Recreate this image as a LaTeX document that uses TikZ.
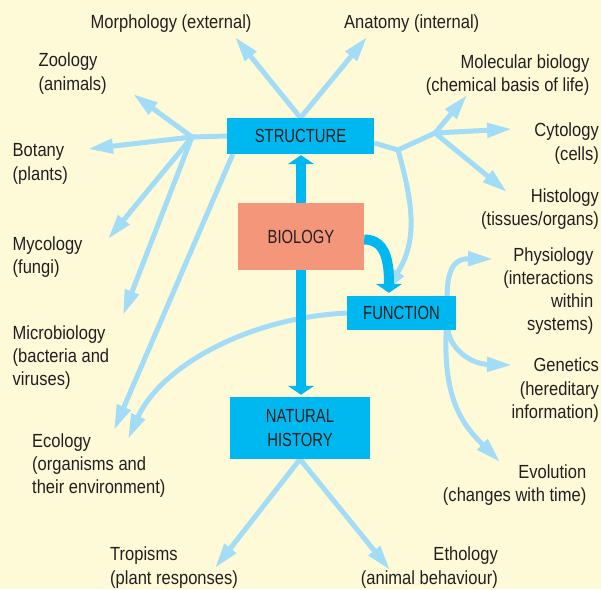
\documentclass[tikz,border=0pt]{standalone}
\usepackage{fontspec}
\setmainfont{Liberation Sans}[FakeStretch=0.87]
\newfontfamily\boxfont{Liberation Sans}[FakeStretch=0.78]
\usetikzlibrary{arrows.meta}
\definecolor{bg}{HTML}{FEFAD8}
\definecolor{boxc}{HTML}{00B8F0}
\definecolor{salmon}{HTML}{F4967A}
\definecolor{lightb}{HTML}{A3DCF7}
\definecolor{ink}{HTML}{231F20}
\pgfdeclarelayer{bottom}
\pgfdeclarelayer{lines}
\pgfsetlayers{bottom,lines,main}
\tikzset{
 lab/.style={inner sep=0pt, text=ink, font=\fontsize{19}{23.3}\selectfont},
 labL/.style={lab, align=left, anchor=base west},
 labR/.style={lab, align=right, anchor=base east},
 bx/.style={fill=boxc, inner sep=0pt, text=ink, font=\boxfont\fontsize{19}{24}\selectfont, align=center},
 la/.style={draw=lightb, line width=5pt, line join=round, -{Triangle[length=25pt,width=14pt]}},
 ll/.style={draw=lightb, line width=5pt, line join=round},
 ta/.style={draw=boxc, line width=10pt, -{Triangle[length=9pt,width=26pt]}},
}
\begin{document}
\begin{tikzpicture}[x=1pt,y=-1pt]
\begin{pgfonlayer}{bottom}
\fill[bg] (0,0) rectangle (601,589);
\end{pgfonlayer}
\useasboundingbox (0,0) rectangle (601,589);

% boxes
\node[bx, minimum width=147pt, minimum height=36pt] (struct) at (300.5,136) {STRUCTURE};
\node[bx, fill=salmon, minimum width=126pt, minimum height=67pt] (bio) at (301,236.5) {BIOLOGY};
\node[bx, minimum width=109pt, minimum height=34pt] (func) at (401.5,313) {FUNCTION};
\node[bx, minimum width=140pt, minimum height=62pt] (nat) at (300,428) {NATURAL\\HISTORY};

% labels (anchor = baseline of last line)
\node[labL] (morph) at (90.5,28.3) {Morphology (external)};
\node[labL] (anat) at (344,28.3) {Anatomy (internal)};
\node[labL] (zoo) at (38.5,90) {Zoology\\(animals)};
\node[labL] (bot) at (12.5,180) {Botany\\(plants)};
\node[labL] (myc) at (12.5,273.8) {Mycology\\(fungi)};
\node[labL] (mic) at (12.5,385.6) {Microbiology\\(bacteria and\\viruses)};
\node[labL] (eco) at (32,493.9) {Ecology\\(organisms and\\their environment)};
\node[labL] (trop) at (110,584) {Tropisms\\(plant responses)};
\node[labR] (eth) at (498,584) {Ethology\\(animal behaviour)};
\node[labR] (evo) at (586.5,501.6) {Evolution\\(changes with time)};
\node[labR] (gen) at (599,418.3) {Genetics\\(hereditary\hspace*{4pt}\\information)};
\node[labR] (phys) at (593.5,330.9) {Physiology\\(interactions\hspace*{5.5pt}\\within\hspace*{5.5pt}\\systems)};
\node[labR] (hist) at (599,225.6) {Histology\\(tissues/organs)};
\node[labR] (cyto) at (599,160) {Cytology\\(cells)};
\node[labR] (mol) at (589.5,91.6) {Molecular biology\\(chemical basis of life)};

% free ends
\coordinate (hubL) at (192,137);
\coordinate (hubR1) at (398,150);
\coordinate (hubR2) at (435,133);
\coordinate (zooT) at (133,94);
\coordinate (botT) at (88,149);
\coordinate (mycT) at (108,239);
\coordinate (micT) at (123,315);
\coordinate (ecoT1) at (114,430);
\coordinate (ecoT2) at (128,439);
\coordinate (morT) at (235,37);
\coordinate (anaT) at (367,37);
\coordinate (molT) at (467,95);
\coordinate (cytT) at (512,129);
\coordinate (hisT) at (507,192);
\coordinate (physT) at (493,259);
\coordinate (genT) at (512,365);
\coordinate (evoT) at (500,462);
\coordinate (troT) at (215,568);
\coordinate (ethT) at (390,570);

\begin{pgfonlayer}{lines}
% left hub
\draw[ll] (struct.west) -- (hubL);
\draw[la] (hubL) -- (zooT);
\draw[la] (hubL) -- (botT);
\draw[la] (hubL) -- (mycT);
\draw[la] (hubL) -- (micT);
\draw[la] ([xshift=6pt]struct.south west) -- (ecoT1);
% top
\draw[la] (struct.north) -- (morT);
\draw[la] (struct.north) -- (anaT);
% right hub
\draw[ll] ([yshift=-7pt]struct.east) -- (hubR1) -- (hubR2);
\draw[la] (hubR2) -- (molT);
\draw[la] (hubR2) -- (cytT);
\draw[la] (hubR2) -- (hisT);
\draw[la] (hubR1) .. controls (412,200) and (419,240) .. ([xshift=-17.5pt,yshift=3pt]func.north);
% function outputs
\draw[la] ([xshift=-9pt]func.north east) .. controls (447,264) and (458,258.5) .. (physT);
\draw[la] ([xshift=-8pt]func.south east) .. controls (450,348) and (470,364) .. (genT);
\draw[la] ([xshift=-10pt]func.south east) .. controls (443,400) and (463,425) .. (evoT);
\draw[la] (func.west) .. controls (245,318) and (160,368) .. (ecoT2);
% natural history
\draw[la] (nat.south) -- (troT);
\draw[la] (nat.south) -- (ethT);
% thick arrows
\draw[ta] (bio.north) -- ([yshift=-1pt]bio.north |- struct.south);
\draw[ta] (bio.south) -- ([yshift=2pt]bio.south |- nat.north);
\draw[ta] ([yshift=-3pt]bio.east) .. controls (386,239.5) and (389,262) .. ([xshift=-12.5pt,yshift=3pt]func.north);
\end{pgfonlayer}
\end{tikzpicture}
\end{document}
